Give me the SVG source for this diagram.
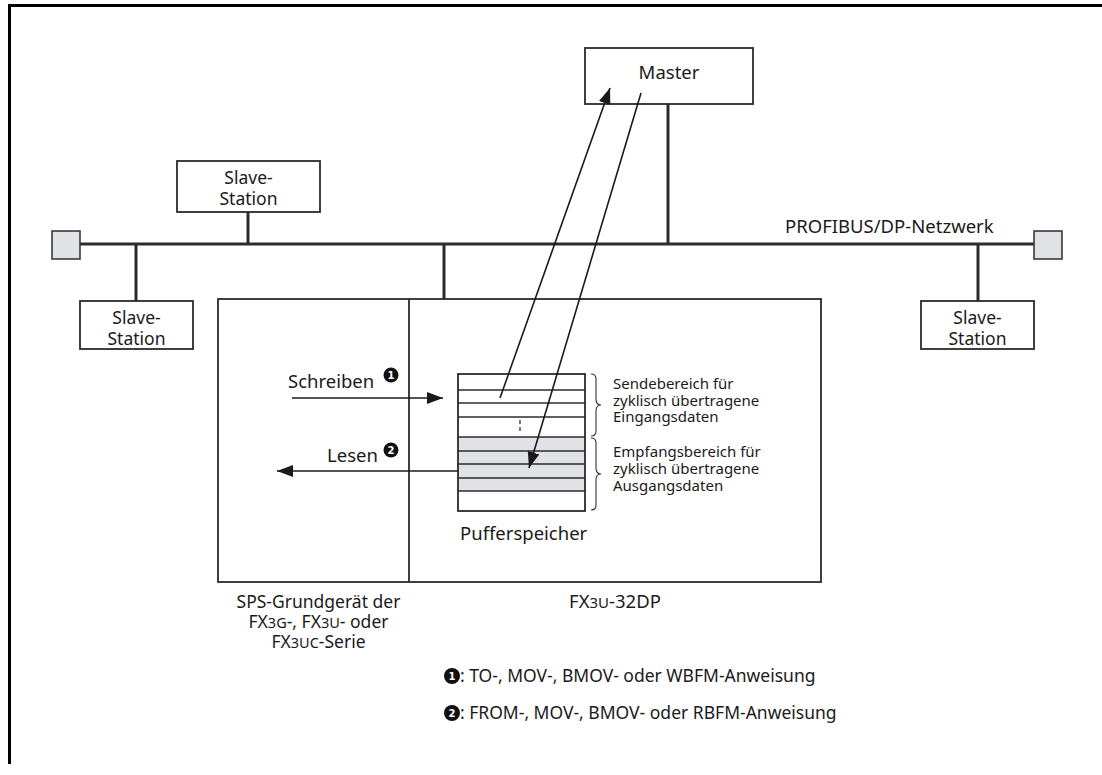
<svg xmlns="http://www.w3.org/2000/svg" width="1102" height="775" viewBox="0 0 1102 775">
<defs>
<style>
text{font-family:"Noto Sans","Open Sans","DejaVu Sans",sans-serif;fill:#1a1a1a}
.l{font-size:18.5px}
.c{font-size:17.5px}
.s{font-size:15px}
.box{fill:#fff;stroke:#2b2b2b;stroke-width:1.8}
.bus{stroke:#2b2b2b;stroke-width:3;fill:none}
.term{fill:#e1e2e6;stroke:#3a3a3a;stroke-width:1.6}
.row{stroke:#2b2b2b;stroke-width:1.6}
.arr{stroke:#1a1a1a;stroke-width:1.6;fill:none}
.brace{stroke:#333;stroke-width:1.1;fill:none}
.num{fill:#111}
.numt{font-family:"DejaVu Sans",sans-serif;font-size:10px;font-weight:bold;fill:#fff}
</style>
<marker id="ah" markerUnits="userSpaceOnUse" viewBox="0 0 16 12" markerWidth="16" markerHeight="12" refX="16" refY="6" orient="auto">
<path d="M0,0 L16,6 L0,12 Z" fill="#1a1a1a"/>
</marker>
</defs>
<rect width="1102" height="775" fill="#fff"/>
<path d="M9.5,764 V5.5 H1102" fill="none" stroke="#000" stroke-width="3"/>

<g id="connectors">
<line class="bus" x1="80" y1="244" x2="1034" y2="244"/>
<line class="bus" x1="668" y1="104" x2="668" y2="244"/>
<line class="bus" x1="248" y1="212" x2="248" y2="244"/>
<line class="bus" x1="136" y1="244" x2="136" y2="301"/>
<line class="bus" x1="444" y1="244" x2="444" y2="299"/>
<line class="bus" x1="978" y1="244" x2="978" y2="301"/>
</g>

<g id="term-left"><rect class="term" x="52" y="231" width="28" height="28"/></g>
<g id="term-right"><rect class="term" x="1034" y="231" width="28" height="28"/></g>

<g id="master">
<rect class="box" x="585" y="48" width="168" height="56"/>
<text class="l" x="669" y="79" text-anchor="middle">Master</text>
</g>

<g id="slave-top">
<rect class="box" x="177" y="161" width="143" height="51"/>
<text class="c" x="248.5" y="184" text-anchor="middle">Slave-</text>
<text class="c" x="248.5" y="205" text-anchor="middle">Station</text>
</g>

<g id="slave-left">
<rect class="box" x="80" y="301" width="113" height="48"/>
<text class="c" x="136.5" y="324" text-anchor="middle">Slave-</text>
<text class="c" x="136.5" y="345" text-anchor="middle">Station</text>
</g>

<g id="slave-right">
<rect class="box" x="921" y="301" width="113" height="48"/>
<text class="c" x="977.5" y="324" text-anchor="middle">Slave-</text>
<text class="c" x="977.5" y="345" text-anchor="middle">Station</text>
</g>

<text class="l" x="785" y="233">PROFIBUS/DP-Netzwerk</text>

<g id="plc">
<rect class="box" x="218" y="299" width="603" height="283"/>
<line x1="409" y1="299" x2="409" y2="582" stroke="#2b2b2b" stroke-width="1.8"/>
</g>

<g id="buffer">
<rect x="458" y="437" width="127" height="54" fill="#e1e2e6"/>
<rect x="458" y="374" width="127" height="137" fill="none" stroke="#2b2b2b" stroke-width="1.8"/>
<line class="row" x1="458" y1="390" x2="585" y2="390"/>
<line class="row" x1="458" y1="403" x2="585" y2="403"/>
<line class="row" x1="458" y1="417" x2="585" y2="417"/>
<line class="row" x1="458" y1="437" x2="585" y2="437"/>
<line class="row" x1="458" y1="451" x2="585" y2="451"/>
<line class="row" x1="458" y1="464" x2="585" y2="464"/>
<line class="row" x1="458" y1="478" x2="585" y2="478"/>
<line class="row" x1="458" y1="491" x2="585" y2="491"/>
<line x1="520" y1="420" x2="520" y2="432" stroke="#333" stroke-width="1.3" stroke-dasharray="4,3"/>
<text class="l" x="460" y="540">Pufferspeicher</text>
</g>

<g id="braces">
<path class="brace" d="M591,374 q5,0 5,5 v20 q0,6 5,6 q-5,0 -5,6 v20 q0,5 -5,5"/>
<path class="brace" d="M591,438 q5,0 5,5 v25 q0,6 5,6 q-5,0 -5,6 v25 q0,5 -5,5"/>
<text class="s" x="613" y="389">Sendebereich für</text>
<text class="s" x="613" y="405.5">zyklisch übertragene</text>
<text class="s" x="613" y="422">Eingangsdaten</text>
<text class="s" x="613" y="457">Empfangsbereich für</text>
<text class="s" x="613" y="474">zyklisch übertragene</text>
<text class="s" x="613" y="491">Ausgangsdaten</text>
</g>

<g id="arrows">
<line class="arr" x1="500" y1="398" x2="610" y2="88" marker-end="url(#ah)"/>
<line class="arr" x1="641" y1="93" x2="529" y2="468" marker-end="url(#ah)"/>
<line class="arr" x1="292" y1="398" x2="443" y2="398" marker-end="url(#ah)"/>
<line class="arr" x1="458" y1="471" x2="277" y2="471" marker-end="url(#ah)"/>
</g>

<g id="labels">
<text class="l" x="288" y="388">Schreiben</text>
<circle class="num" cx="391" cy="375" r="7.5"/>
<text class="numt" x="391" y="378.5" text-anchor="middle">1</text>
<text class="l" x="327" y="462">Lesen</text>
<circle class="num" cx="391" cy="450" r="7.5"/>
<text class="numt" x="391" y="453.5" text-anchor="middle">2</text>
</g>

<g id="captions">
<text class="c" x="318.5" y="608" text-anchor="middle">SPS-Grundgerät der</text>
<text class="c" x="318.5" y="628" text-anchor="middle">FX<tspan font-size="14.5">3G</tspan>-, FX<tspan font-size="14.5">3U</tspan>- oder</text>
<text class="c" x="318.5" y="648" text-anchor="middle">FX<tspan font-size="14.5">3UC</tspan>-Serie</text>
<text class="l" x="615" y="608" text-anchor="middle">FX<tspan font-size="15">3U</tspan>-32DP</text>
</g>

<g id="legend">
<circle class="num" cx="452" cy="676" r="8"/>
<text class="numt" x="452" y="679.5" text-anchor="middle">1</text>
<text class="c" x="460" y="682">: TO-, MOV-, BMOV- oder WBFM-Anweisung</text>
<circle class="num" cx="452" cy="713" r="8"/>
<text class="numt" x="452" y="716.5" text-anchor="middle">2</text>
<text class="c" x="460" y="719">: FROM-, MOV-, BMOV- oder RBFM-Anweisung</text>
</g>
</svg>
